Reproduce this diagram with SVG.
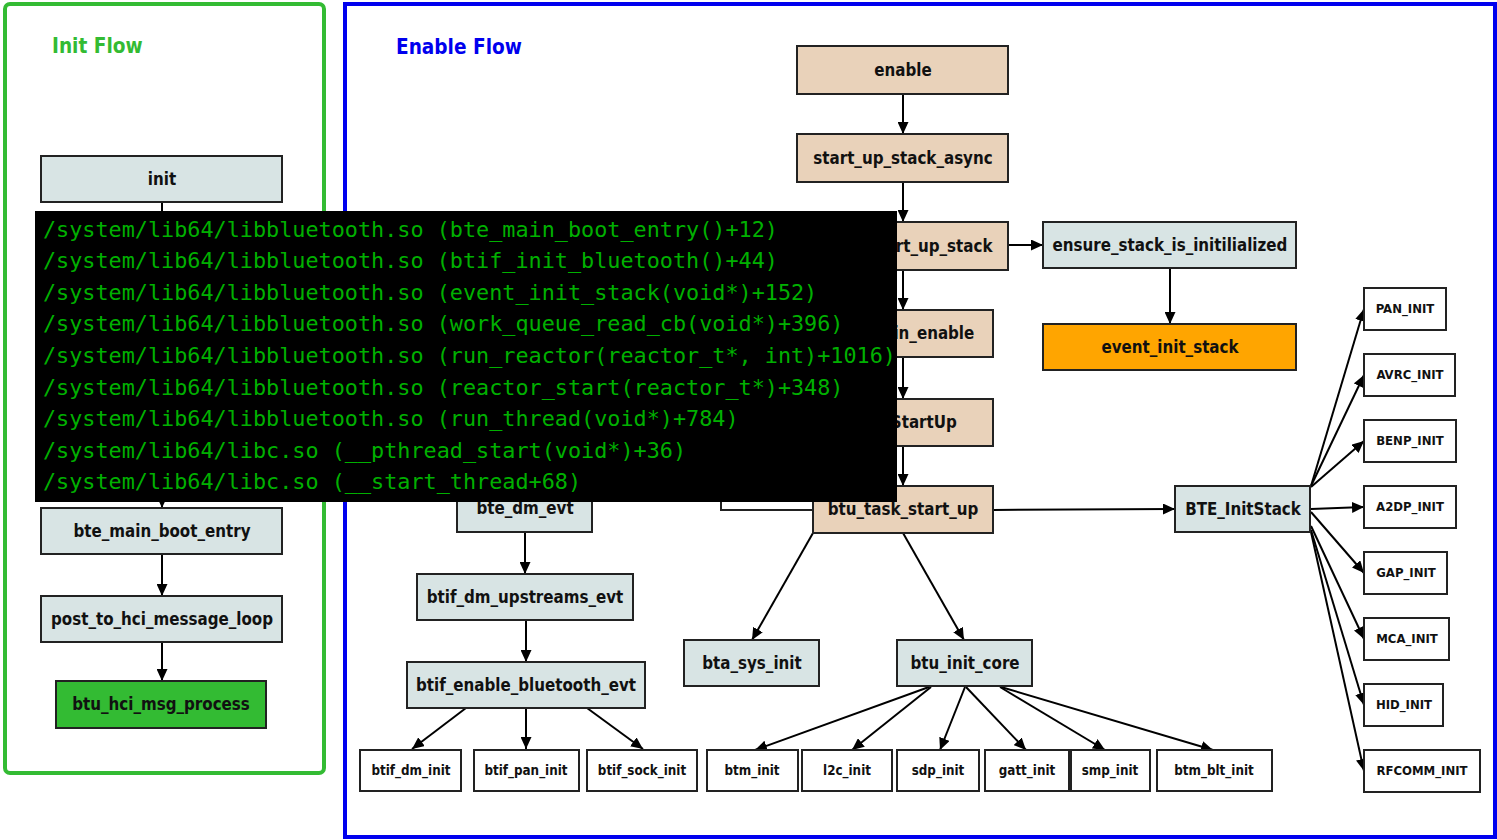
<svg xmlns="http://www.w3.org/2000/svg" width="1497" height="840" viewBox="0 0 1497 840">
  <defs>
    <marker id="arrow" markerUnits="userSpaceOnUse" markerWidth="13" markerHeight="11" refX="12" refY="5.5" orient="auto">
      <path d="M0,0 L12,5.5 L0,11 Z" fill="#000"/>
    </marker>
    <style>
      .node rect { stroke: #222; stroke-width: 2; }
      .lt rect { fill: #d8e4e4; }
      .tan rect { fill: #e9d2ba; }
      .wh rect { fill: #fff; }
      .node text { font-family: "DejaVu Sans Condensed", "DejaVu Sans", sans-serif; font-weight: bold; fill: #111; text-anchor: middle; font-size: 16.8px; }
      .sm text { font-size: 13.3px; }
      .cap text { font-size: 13px; }
      .title { font-family: "DejaVu Sans Condensed", "DejaVu Sans", sans-serif; font-weight: bold; font-size: 20.6px; }
      #edges line { stroke: #000; stroke-width: 2; fill: none; }
      .a { marker-end: url(#arrow); }
      .trace { font-family: "DejaVu Sans Mono", "Liberation Mono", monospace; font-size: 21.8px; fill: #00b000; }
    </style>
  </defs>
  <rect width="1497" height="840" fill="#fff"/>

  <!-- clusters -->
  <g id="cluster-init">
    <rect x="5" y="4" width="319" height="769" rx="5" fill="none" stroke="#33bb33" stroke-width="4"/>
    <text class="title" x="52" y="53" fill="#33bb33">Init Flow</text>
  </g>
  <g id="cluster-enable">
    <rect x="345" y="4" width="1150" height="833" fill="none" stroke="#0000ee" stroke-width="4"/>
    <text class="title" x="396" y="54" fill="#0000ee">Enable Flow</text>
  </g>

  <!-- connectors -->
  <g id="edges">
    <line x1="162" y1="202" x2="162" y2="260"/>
    <line class="a" x1="162" y1="480" x2="162" y2="508"/>
    <line class="a" x1="162" y1="554" x2="162" y2="596"/>
    <line class="a" x1="162" y1="642" x2="162" y2="681"/>

    <line class="a" x1="903" y1="94" x2="903" y2="134"/>
    <line class="a" x1="903" y1="182" x2="903" y2="222"/>
    <line class="a" x1="1008" y1="245" x2="1043" y2="245"/>
    <line class="a" x1="1170" y1="268" x2="1170" y2="324"/>
    <line class="a" x1="903" y1="270" x2="903" y2="310"/>
    <line class="a" x1="903" y1="357" x2="903" y2="399"/>
    <line class="a" x1="903" y1="446" x2="903" y2="486"/>
    <line class="a" x1="993" y1="510" x2="1175" y2="509"/>
    <line class="a" x1="813" y1="533" x2="752" y2="640"/>
    <line class="a" x1="903" y1="533" x2="964" y2="640"/>

    <line class="a" x1="525" y1="532" x2="525" y2="574"/>
    <line class="a" x1="526" y1="620" x2="526" y2="662"/>
    <line class="a" x1="466" y1="708" x2="412" y2="749"/>
    <line class="a" x1="526" y1="708" x2="526" y2="749"/>
    <line class="a" x1="587" y1="708" x2="643" y2="749"/>

    <line class="a" x1="929" y1="687" x2="755" y2="750"/>
    <line class="a" x1="931" y1="687" x2="852" y2="750"/>
    <line class="a" x1="965" y1="687" x2="940" y2="750"/>
    <line class="a" x1="966" y1="687" x2="1026" y2="750"/>
    <line class="a" x1="1000" y1="687" x2="1105" y2="750"/>
    <line class="a" x1="1001" y1="687" x2="1213" y2="750"/>

    <line class="a" x1="1311" y1="486" x2="1364" y2="309"/>
    <line class="a" x1="1311" y1="486" x2="1364" y2="375"/>
    <line class="a" x1="1311" y1="487" x2="1364" y2="441"/>
    <line class="a" x1="1311" y1="509" x2="1364" y2="507"/>
    <line class="a" x1="1311" y1="512" x2="1364" y2="573"/>
    <line class="a" x1="1311" y1="526" x2="1364" y2="639"/>
    <line class="a" x1="1311" y1="530" x2="1364" y2="705"/>
    <line class="a" x1="1311" y1="532" x2="1364" y2="771"/>
  </g>

  <!-- Init Flow nodes -->
  <g id="n-init" class="node lt"><rect x="41" y="156" width="241" height="46"/><text x="162" y="185">init</text></g>
  <g id="n-bte_main_boot_entry" class="node lt"><rect x="41" y="508" width="241" height="46"/><text x="162" y="537">bte_main_boot_entry</text></g>
  <g id="n-post_to_hci_message_loop" class="node lt"><rect x="41" y="596" width="241" height="46"/><text x="162" y="625">post_to_hci_message_loop</text></g>
  <g id="n-btu_hci_msg_process" class="node"><rect x="56" y="681" width="210" height="47" fill="#33bb33"/><text x="161" y="710">btu_hci_msg_process</text></g>

  <!-- Enable Flow nodes -->
  <g id="n-enable" class="node tan"><rect x="797" y="46" width="211" height="48"/><text x="903" y="76">enable</text></g>
  <g id="n-start_up_stack_async" class="node tan"><rect x="797" y="134" width="211" height="48"/><text x="903" y="164">start_up_stack_async</text></g>
  <g id="n-event_start_up_stack" class="node tan"><rect x="797" y="222" width="211" height="48"/><text x="903" y="252">event_start_up_stack</text></g>
  <g id="n-ensure_stack_is_initilialized" class="node lt"><rect x="1043" y="222" width="253" height="46"/><text x="1170" y="251">ensure_stack_is_initilialized</text></g>
  <g id="n-event_init_stack" class="node"><rect x="1043" y="324" width="253" height="46" fill="#ffa500"/><text x="1170" y="353">event_init_stack</text></g>
  <g id="n-bte_main_enable" class="node tan"><rect x="813" y="310" width="180" height="47"/><text x="903" y="339">bte_main_enable</text></g>
  <g id="n-BTU_StartUp" class="node tan"><rect x="813" y="399" width="180" height="47"/><text x="903" y="428">BTU_StartUp</text></g>
  <g id="n-btu_task_start_up" class="node tan"><rect x="813" y="486" width="180" height="47"/><text x="903" y="515">btu_task_start_up</text></g>
  <g id="n-hidden" class="node wh"><rect x="721" y="466" width="92" height="44"/></g>

  <g id="n-bte_dm_evt" class="node lt"><rect x="457" y="485" width="135" height="47"/><text x="525" y="514">bte_dm_evt</text></g>
  <g id="n-btif_dm_upstreams_evt" class="node lt"><rect x="417" y="574" width="216" height="46"/><text x="525" y="603">btif_dm_upstreams_evt</text></g>
  <g id="n-btif_enable_bluetooth_evt" class="node lt"><rect x="407" y="662" width="238" height="46"/><text x="526" y="691">btif_enable_bluetooth_evt</text></g>
  <g id="n-btif_dm_init" class="node wh sm"><rect x="360" y="750" width="101" height="41"/><text x="411" y="775">btif_dm_init</text></g>
  <g id="n-btif_pan_init" class="node wh sm"><rect x="474" y="750" width="105" height="41"/><text x="526" y="775">btif_pan_init</text></g>
  <g id="n-btif_sock_init" class="node wh sm"><rect x="587" y="750" width="110" height="41"/><text x="642" y="775">btif_sock_init</text></g>

  <g id="n-bta_sys_init" class="node lt"><rect x="684" y="640" width="135" height="46"/><text x="752" y="669">bta_sys_init</text></g>
  <g id="n-btu_init_core" class="node lt"><rect x="897" y="640" width="135" height="46"/><text x="965" y="669">btu_init_core</text></g>
  <g id="n-btm_init" class="node wh sm"><rect x="707" y="750" width="91" height="41"/><text x="752" y="775">btm_init</text></g>
  <g id="n-l2c_init" class="node wh sm"><rect x="802" y="750" width="90" height="41"/><text x="847" y="775">l2c_init</text></g>
  <g id="n-sdp_init" class="node wh sm"><rect x="897" y="750" width="82" height="41"/><text x="938" y="775">sdp_init</text></g>
  <g id="n-gatt_init" class="node wh sm"><rect x="985" y="750" width="84" height="41"/><text x="1027" y="775">gatt_init</text></g>
  <g id="n-smp_init" class="node wh sm"><rect x="1071" y="750" width="79" height="41"/><text x="1110" y="775">smp_init</text></g>
  <g id="n-btm_blt_init" class="node wh sm"><rect x="1157" y="750" width="115" height="41"/><text x="1214" y="775">btm_blt_init</text></g>

  <g id="n-BTE_InitStack" class="node lt"><rect x="1175" y="486" width="135" height="46"/><text x="1243" y="515">BTE_InitStack</text></g>
  <g id="n-PAN_INIT" class="node wh cap"><rect x="1364" y="288" width="82" height="42"/><text x="1405" y="313">PAN_INIT</text></g>
  <g id="n-AVRC_INIT" class="node wh cap"><rect x="1364" y="354" width="91" height="42"/><text x="1410" y="379">AVRC_INIT</text></g>
  <g id="n-BENP_INIT" class="node wh cap"><rect x="1364" y="420" width="92" height="42"/><text x="1410" y="445">BENP_INIT</text></g>
  <g id="n-A2DP_INIT" class="node wh cap"><rect x="1364" y="486" width="92" height="42"/><text x="1410" y="511">A2DP_INIT</text></g>
  <g id="n-GAP_INIT" class="node wh cap"><rect x="1364" y="552" width="83" height="42"/><text x="1406" y="577">GAP_INIT</text></g>
  <g id="n-MCA_INIT" class="node wh cap"><rect x="1364" y="618" width="85" height="42"/><text x="1407" y="643">MCA_INIT</text></g>
  <g id="n-HID_INIT" class="node wh cap"><rect x="1364" y="684" width="79" height="42"/><text x="1404" y="709">HID_INIT</text></g>
  <g id="n-RFCOMM_INIT" class="node wh cap"><rect x="1364" y="750" width="116" height="42"/><text x="1422" y="775">RFCOMM_INIT</text></g>

  <!-- backtrace panel -->
  <g id="backtrace">
    <rect x="35" y="211" width="862" height="291" fill="#000"/>
    <text class="trace" x="43" y="236.5">/system/lib64/libbluetooth.so (bte_main_boot_entry()+12)</text>
    <text class="trace" x="43" y="268.1">/system/lib64/libbluetooth.so (btif_init_bluetooth()+44)</text>
    <text class="trace" x="43" y="299.7">/system/lib64/libbluetooth.so (event_init_stack(void*)+152)</text>
    <text class="trace" x="43" y="331.3">/system/lib64/libbluetooth.so (work_queue_read_cb(void*)+396)</text>
    <text class="trace" x="43" y="362.9">/system/lib64/libbluetooth.so (run_reactor(reactor_t*, int)+1016)</text>
    <text class="trace" x="43" y="394.5">/system/lib64/libbluetooth.so (reactor_start(reactor_t*)+348)</text>
    <text class="trace" x="43" y="426.1">/system/lib64/libbluetooth.so (run_thread(void*)+784)</text>
    <text class="trace" x="43" y="457.7">/system/lib64/libc.so (__pthread_start(void*)+36)</text>
    <text class="trace" x="43" y="489.3">/system/lib64/libc.so (__start_thread+68)</text>
  </g>
</svg>
